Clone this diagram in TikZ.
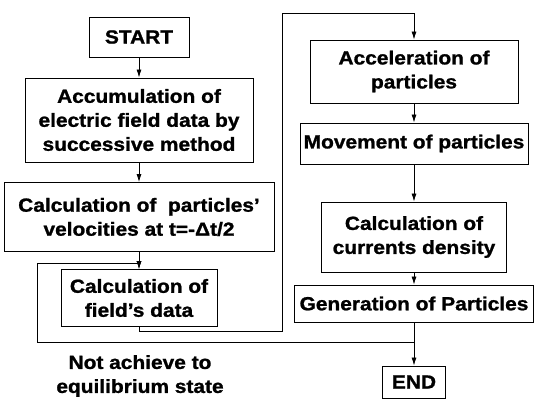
\documentclass[tikz,border=0pt]{standalone}
\usepackage{fontspec}
\setmainfont{Liberation Sans}[FakeStretch=1.1, BoldFeatures={FakeBold=1.2}]
\usetikzlibrary{arrows.meta,positioning}

\begin{document}
\begin{tikzpicture}[
    x=1pt, y=-1pt,
    auto,
    >={Latex[length=8pt,width=5pt]},
    font=\fontsize{19}{24}\selectfont\bfseries,
    proc/.style={
		rectangle,
		draw=black,
		line width=0.9pt,
		align=center,
		inner sep=1pt
	},
	flow/.style={
		line width=0.8pt
	}
  ]
  \useasboundingbox (0,0) rectangle (537,410);
    % left column: start up and field solver

  \node [proc, minimum width=100pt, minimum height=40pt] (start) at (139,37) {START};
  \node [proc, below of=start, node distance=83pt, minimum width=228pt, minimum height=84pt] (accum)
 {Accumulation of\\ electric field data by\\ successive method};
  \node [proc, below of=accum, node distance=97pt, minimum width=270pt, minimum height=69pt] (calcvel)
 {Calculation of~~particles'\\ velocities at t=-Δt/2};
  \node [proc, below of=calcvel, node distance=81pt, minimum width=156pt, minimum height=57pt] (field)
 {Calculation of\\ field's data};
  \node [align=center] (note) at (140,376) {Not achieve to\\ equilibrium state};

    % right column: particle steps

  \node [proc, minimum width=208pt, minimum height=63pt] (accel) at (414,71.5) {Acceleration of\\ particles};
  \node [proc, below of=accel, node distance=72pt, minimum width=228pt, minimum height=41pt] (move)
 {Movement of particles};
  \node [proc, below of=move, node distance=93.5pt, minimum width=185pt, minimum height=70pt] (curr)
 {Calculation of\\ currents density};
  \node [proc, below of=curr, node distance=66.5pt, minimum width=239pt, minimum height=37pt] (gen)
 {Generation of Particles};
  \node [proc, below of=gen, node distance=78.5pt, minimum width=63pt, minimum height=32pt] (finish)
 {END};

  \coordinate (inner) at (282,331);
  \coordinate (top) at (414,13);
  \coordinate (split) at (414,342);
  \coordinate (back) at (37,263);

 \draw [flow,->] (start) -- (accum);
 \draw [flow,->] (accum) -- (calcvel);
 \draw [flow,->] (calcvel) -- (field);
 \draw [flow,->] (field.south) |- (inner) |- (top) -- (accel.north);
 \draw [flow,->] (accel) -- (move);
 \draw [flow,->] (move) -- (curr);
 \draw [flow,->] (curr) -- (gen);
 \draw [flow,->] (gen) -- (finish);
 \draw [flow,->] (split) -| (back) -| (field.north);

\end{tikzpicture}
\end{document}
